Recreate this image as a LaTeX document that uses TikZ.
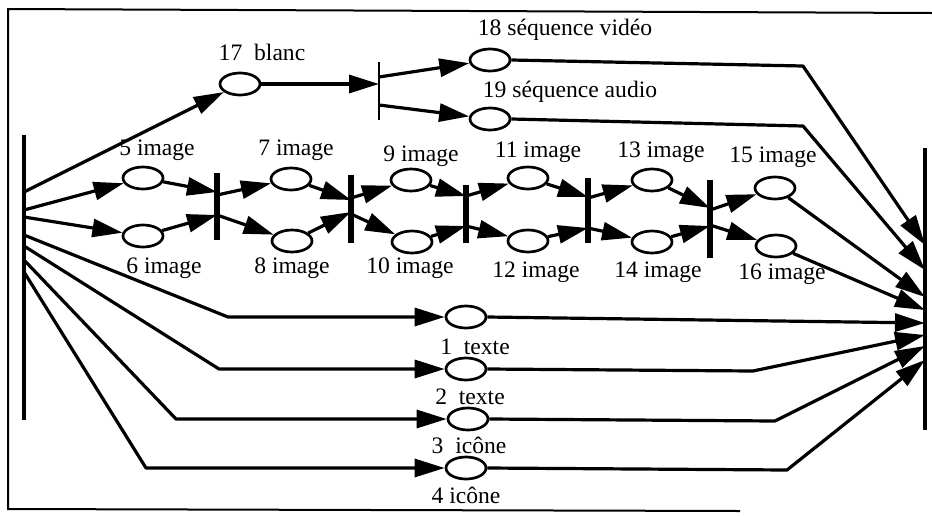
\documentclass[tikz,border=0pt]{standalone}
\usepackage{fontspec}
\setmainfont{Liberation Serif}
\usetikzlibrary{positioning,shapes.geometric,arrows.meta}

\begin{document}
\begin{tikzpicture}[
    x=0.5pt, y=-0.5pt,
    every node/.style={font=\fontsize{11.8}{13}\selectfont},
    place/.style={draw, ellipse, line width=1.35pt, minimum width=20pt, minimum height=11pt, inner sep=0pt},
    bar/.style={fill=black, inner sep=0pt, minimum width=2.6pt},
    lbl/.style={inner sep=0pt},
    arr/.style={-{Triangle[length=15pt,width=9pt]}, line width=1.6pt, line join=round},
    frame/.style={line width=1pt}
  ]
  \useasboundingbox (0,0) rectangle (932,515);
  % cadre
  \draw[frame] (932,13) -- (8,9) -- (8,509) -- (740,511);

  % transitions
  \node[bar, minimum width=1.7pt, minimum height=142.5pt] (tin)  at (24,277) {};
  \node[bar, minimum width=1.7pt, minimum height=141pt]   (tout) at (925,289) {};
  \node[bar, minimum width=1.3pt, minimum height=29pt]    (t17)  at (379,91) {};
  \node[bar, minimum height=33.5pt] (t1) at (217,206) {};
  \node[bar, minimum height=34pt]   (t2) at (351,209) {};
  \node[bar, minimum height=29pt]   (t3) at (466,214) {};
  \node[bar, minimum height=32.5pt] (t4) at (588,210) {};
  \node[bar, minimum height=39pt]   (t5) at (710,219) {};

  % places
  \node[place] (p17) at (240,84) {};
  \node[place] (p18) at (490,60) {};
  \node[place] (p19) at (490,119) {};
  \node[place] (p5)  at (143,178) {};
  \node[place] (p6)  at (143,236) {};
  \node[place] (p7)  at (291,179) {};
  \node[place] (p8)  at (292,241) {};
  \node[place] (p9)  at (411,180) {};
  \node[place] (p10) at (412,242) {};
  \node[place] (p11) at (528,178) {};
  \node[place] (p12) at (528,241) {};
  \node[place] (p13) at (652,180) {};
  \node[place] (p14) at (652,242) {};
  \node[place] (p15) at (775,188) {};
  \node[place] (p16) at (776,246) {};
  \node[place] (p1)  at (466,317) {};
  \node[place] (p2)  at (466,369) {};
  \node[place] (p3)  at (468,419) {};
  \node[place] (p4)  at (466,468) {};

  % etiquettes
  \node[lbl] (l17) at (262,52)  {17~~blanc};
  \node[lbl] (l18) at (565,30)  {18 séquence vidéo};
  \node[lbl] (l19) at (570,92)  {19 séquence audio};
  \node[lbl] (l5)  at (157,150) {5 image};
  \node[lbl] (l7)  at (296,150) {7 image};
  \node[lbl] (l9)  at (421,156) {9 image};
  \node[lbl] (l11) at (538,152) {11 image};
  \node[lbl] (l13) at (661,152) {13 image};
  \node[lbl] (l15) at (773,157) {15 image};
  \node[lbl] (l6)  at (164,268) {6 image};
  \node[lbl] (l8)  at (292,268) {8 image};
  \node[lbl] (l10) at (410,268) {10 image};
  \node[lbl] (l12) at (536,272) {12 image};
  \node[lbl] (l14) at (658,272) {14 image};
  \node[lbl] (l16) at (782,274) {16 image};
  \node[lbl] (l1)  at (475,347) {1~~texte};
  \node[lbl] (l2)  at (470,397) {2~~texte};
  \node[lbl] (l3)  at (469,445) {3~~icône};
  \node[lbl] (l4)  at (466,495) {4 icône};

  % depart
  \draw[arr] (tin.center |- 0,192) -- (p17);
  \draw[arr] (tin.center |- 0,210) -- (p5);
  \draw[arr] (tin.center |- 0,217) -- (p6);
  \draw[arr] (tin.center |- 0,235) -- (228,317) -- (p1);
  \draw[arr] (tin.center |- 0,246) -- (219,369) -- (p2);
  \draw[arr] (tin.center |- 0,260) -- (176,419) -- (p3);
  \draw[arr] (tin.center |- 0,272) -- (146,468) -- (p4);

  % blanc, video, audio
  \draw[arr] (p17.east) -- (t17.center |- p17.east);
  \draw[arr] (t17.center |- 0,77)  -- (p18);
  \draw[arr] (t17.center |- 0,105) -- (p19);

  % images
  \draw[arr] (p5) -- (t1.center |- 0,192);
  \draw[arr] (p6) -- (t1.center |- 0,215);
  \draw[arr] (t1.center |- 0,195) -- (p7);
  \draw[arr] (t1.center |- 0,215) -- (p8);
  \draw[arr] (p7) -- (t2.center |- 0,200);
  \draw[arr] (p8) -- (t2.center |- 0,212);
  \draw[arr] (t2.center |- 0,198) -- (p9);
  \draw[arr] (t2.center |- 0,214) -- (p10);
  \draw[arr] (p9)  -- (t3.center |- 0,196);
  \draw[arr] (p10) -- (t3.center |- 0,226);
  \draw[arr] (t3.center |- 0,196) -- (p11);
  \draw[arr] (t3.center |- 0,226) -- (p12);
  \draw[arr] (p11) -- (t4.center |- 0,197);
  \draw[arr] (p12) -- (t4.center |- 0,228);
  \draw[arr] (t4.center |- 0,198) -- (p13);
  \draw[arr] (t4.center |- 0,228) -- (p14);
  \draw[arr] (p13) -- (t5.center |- 0,208);
  \draw[arr] (p14) -- (t5.center |- 0,226);
  \draw[arr] (t5.center |- 0,210) -- (p15);
  \draw[arr] (t5.center |- 0,225) -- (p16);

  % arrivee
  \draw[arr] (p18.east) -- (803,66)  -- (tout.center |- 0,245);
  \draw[arr] (p19.east) -- (803,126) -- (tout.center |- 0,270);
  \draw[arr] (p15) -- (tout.center |- 0,297);
  \draw[arr] (p16) -- (tout.center |- 0,310);
  \draw[arr] (p1.east) -- (tout.center |- 0,323);
  \draw[arr] (p2.east) -- (753,371) -- (tout.center |- 0,335);
  \draw[arr] (p3.east) -- (775,421) -- (tout.center |- 0,346);
  \draw[arr] (p4.east) -- (787,470) -- (tout.center |- 0,360);
\end{tikzpicture}
\end{document}
